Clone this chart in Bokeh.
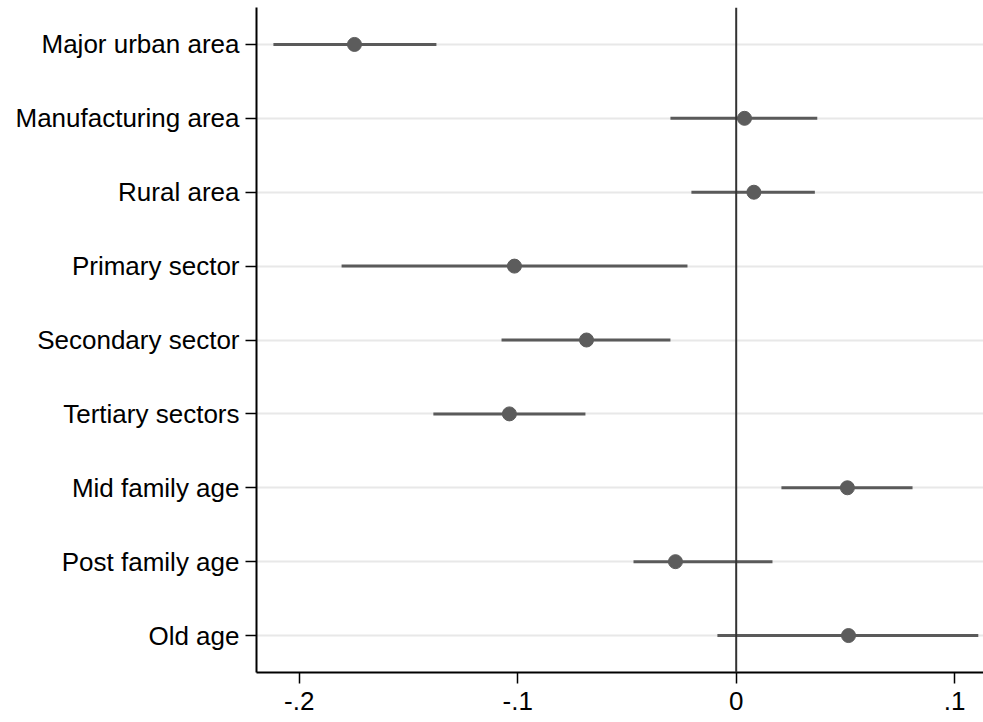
from bokeh.plotting import figure
from bokeh.models import Range1d, FactorRange, Span, ColumnDataSource, FixedTicker
from bokeh.embed import file_html
from bokeh.resources import INLINE

categories = ["Major urban area", "Manufacturing area", "Rural area", "Primary sector",
              "Secondary sector", "Tertiary sectors", "Mid family age", "Post family age", "Old age"]
estimates = [-0.1747, 0.0038, 0.0081, -0.1015, -0.0685, -0.1038, 0.0509, -0.0278, 0.0514]
ci_low = [-0.2118, -0.0301, -0.0205, -0.1806, -0.1074, -0.1386, 0.0207, -0.0470, -0.0086]
ci_high = [-0.1372, 0.0371, 0.0360, -0.0223, -0.0301, -0.0690, 0.0807, 0.0166, 0.1108]
x_ticks = [-0.2, -0.1, 0.0, 0.1]
x_tick_labels = ["-.2", "-.1", "0", ".1"]

src = ColumnDataSource(dict(cat=categories, est=estimates, lo=ci_low, hi=ci_high))

FONT = "Liberation Sans"

p = figure(width=983, height=722,
           x_range=Range1d(-0.21954, 0.11318),
           y_range=FactorRange(factors=list(reversed(categories))),
           output_backend="svg", toolbar_location=None,
           min_border_left=256, min_border_right=0, min_border_top=7, min_border_bottom=50)
p.outline_line_color = None
p.background_fill_color = "white"
p.border_fill_color = "white"

p.xgrid.visible = False
p.ygrid.grid_line_color = "#e8e8e8"
p.ygrid.grid_line_width = 2

for ax in (p.xaxis[0], p.yaxis[0]):
    ax.axis_line_color = "black"
    ax.axis_line_width = 2
    ax.major_tick_line_color = "black"
    ax.major_tick_line_width = 1.5
    ax.major_tick_out = 11
    ax.major_tick_in = 0
    ax.minor_tick_out = 0
    ax.minor_tick_in = 0
    ax.major_label_text_font = FONT
    ax.major_label_text_font_size = "26px"
    ax.major_label_text_font_style = "normal"
    ax.major_label_text_color = "black"

p.yaxis.major_label_standoff = 6
p.xaxis.major_label_standoff = 8
p.xaxis.ticker = FixedTicker(ticks=x_ticks)
p.xaxis.major_label_overrides = {t: l for t, l in zip(x_ticks, x_tick_labels)}

p.segment(x0="lo", y0="cat", x1="hi", y1="cat", source=src,
          line_color="#5a5a5a", line_width=3)
p.scatter(x="est", y="cat", source=src, size=14,
          fill_color="#5c5c5c", line_color="#5c5c5c")

p.add_layout(Span(location=0, dimension="height", line_color="#333333", line_width=2))

open("out.html", "w").write(file_html(p, INLINE))
